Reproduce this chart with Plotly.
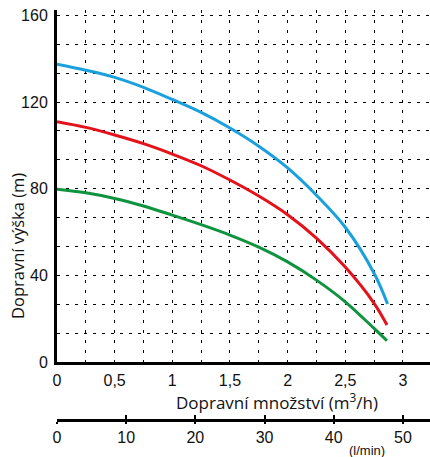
import plotly.graph_objects as go

# flow (m3/h) and head (m)
q_blue = [0, 0.25, 0.5, 0.75, 1.0, 1.25, 1.5, 1.75, 2.0, 2.25, 2.5, 2.75, 2.867]
h_blue = [137.5, 134.7, 131.4, 126.8, 121.2, 115.2, 108.0, 99.6, 89.6, 77.0, 62.2, 41.0, 26.8]

q_red = [0, 0.25, 0.5, 0.75, 1.0, 1.25, 1.5, 1.75, 2.0, 2.25, 2.5, 2.75, 2.862]
h_red = [110.9, 108.3, 104.8, 100.8, 96.0, 90.6, 84.0, 76.6, 68.0, 57.2, 43.8, 27.1, 17.1]

q_green = [0, 0.25, 0.5, 0.75, 1.0, 1.25, 1.5, 1.75, 2.0, 2.25, 2.5, 2.75, 2.862]
h_green = [79.8, 78.1, 75.5, 72.0, 67.8, 63.4, 58.6, 53.0, 46.2, 37.8, 27.8, 15.5, 9.8]

x_ticks = [0, 0.5, 1, 1.5, 2, 2.5, 3]
x_ticktext = ["0", "0,5", "1", "1,5", "2", "2,5", "3"]
y_ticks = [0, 40, 80, 120, 160]
lmin_ticks = [0, 10, 20, 30, 40, 50]

series = [
    (q_blue, h_blue, "#1AA0DC"),
    (q_red, h_red, "#E3121B"),
    (q_green, h_green, "#10933E"),
]

X_MAX = 3.235
Y_MAX = 162.5
plot_l, plot_r, plot_t, plot_b = 57, 430, 10, 420

fig = go.Figure()
for q, h, c in series:
    fig.add_trace(go.Scatter(x=q, y=h, mode="lines", line=dict(color=c, width=3, shape="spline", smoothing=1.0),
                             showlegend=False, hoverinfo="skip"))

tickfont = dict(family="Liberation Sans, Arial, sans-serif", size=16, color="#111")
titlefont = dict(family="Open Sans, sans-serif", size=16.5, color="#111")

def px_x(v):
    return (v - plot_l) / (plot_r - plot_l)

def px_y(v):
    return (plot_b - v) / (plot_b - plot_t)

fig.update_layout(
    width=430, height=457, autosize=False,
    margin=dict(l=plot_l, r=430 - plot_r, t=plot_t, b=457 - plot_b, pad=0),
    paper_bgcolor="white", plot_bgcolor="white",
    xaxis=dict(
        range=[0, X_MAX], anchor="y", showline=True, linecolor="black", linewidth=3,
        tickmode="array", tickvals=x_ticks, ticktext=x_ticktext, ticks="",
        ticklabelstandoff=2, tickfont=tickfont, zeroline=False, automargin=False,
        showgrid=True, gridcolor="black", gridwidth=1.3, griddash="3px,7px",
        minor=dict(dtick=0.25, tick0=0, showgrid=True, gridcolor="black", gridwidth=1.3, griddash="3px,7px"),
    ),
    yaxis=dict(
        range=[0, Y_MAX], domain=[(plot_b - 362) / (plot_b - plot_t), 1], showline=True, linecolor="black", linewidth=3,
        tickmode="array", tickvals=y_ticks, ticks="", tickfont=tickfont, zeroline=False,
        ticklabelstandoff=3, automargin=False,
        showgrid=True, gridcolor="black", gridwidth=1.3, griddash="3px,6px",
        minor=dict(dtick=40 / 3, tick0=0, showgrid=True, gridcolor="black", gridwidth=1.3, griddash="3px,6px"),
    ),
    xaxis2=dict(
        range=[0, X_MAX * 1000 / 60], overlaying="x", anchor="free", position=0, side="bottom",
        showline=True, linecolor="black", linewidth=3, showgrid=False, zeroline=False, automargin=False,
        tickmode="array", tickvals=lmin_ticks, ticks="outside", ticklen=2, tickwidth=2, tickcolor="black",
        tickfont=tickfont,
    ),
    xaxis3=dict(
        range=[0, X_MAX * 1000 / 60], overlaying="x", anchor="free", position=0, side="bottom",
        showline=False, showgrid=False, zeroline=False, showticklabels=False, automargin=False,
        tickmode="array", tickvals=lmin_ticks[1:], ticks="inside", ticklen=5, tickwidth=2, tickcolor="black",
    ),
    annotations=[
        dict(text="Dopravní množství (m<sup>3</sup>/h)", x=px_x(277), y=px_y(401), xref="paper", yref="paper",
             xanchor="center", yanchor="middle", showarrow=False,
             font=dict(family="Open Sans, sans-serif", size=17, color="#111")),
        dict(text="Dopravní výška (m)", x=px_x(17), y=px_y(246), xref="paper", yref="paper",
             xanchor="center", yanchor="middle", textangle=-90, showarrow=False, font=titlefont),
        dict(text="(l/min)", x=px_x(367), y=px_y(450), xref="paper", yref="paper",
             xanchor="center", yanchor="middle", showarrow=False,
             font=dict(family="Liberation Sans, Arial, sans-serif", size=13, color="#111")),
    ],
)

# invisible traces so the l/min axes are rendered
fig.add_trace(go.Scatter(x=[0], y=[0], xaxis="x2", mode="markers", marker=dict(opacity=0), showlegend=False, hoverinfo="skip"))
fig.add_trace(go.Scatter(x=[0], y=[0], xaxis="x3", mode="markers", marker=dict(opacity=0), showlegend=False, hoverinfo="skip"))

fig.write_html("out.html", config={"displayModeBar": False},
               post_script="document.body.style.margin='0';document.body.style.padding='0';")
